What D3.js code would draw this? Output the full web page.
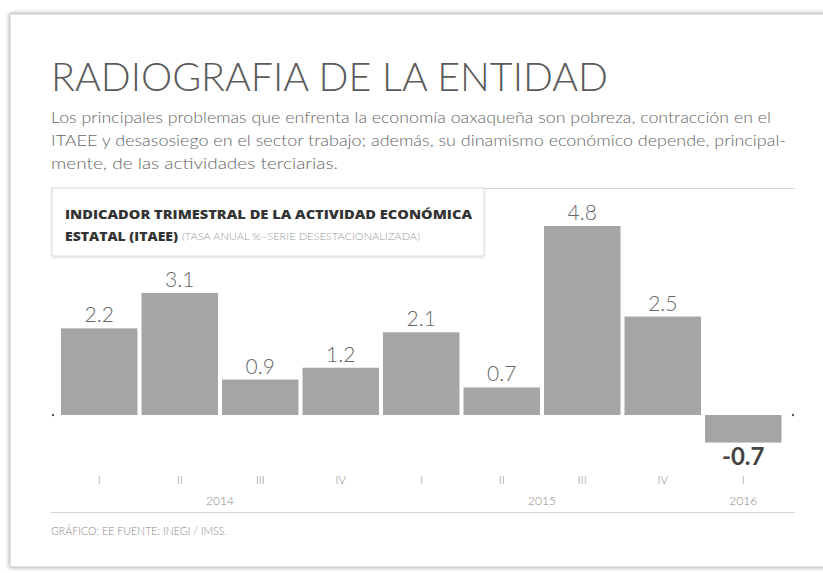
<!DOCTYPE html>
<html>
<head>
<meta charset="utf-8">
<script src="https://cdn.jsdelivr.net/npm/d3@7"></script>
<style>
  html, body { margin: 0; padding: 0; background: #fff; }
  svg { display: block; font-family: Lato, "Open Sans", sans-serif; }
</style>
</head>
<body>
<div id="chart"></div>
<script>
// data
const quarters = ["I", "II", "III", "IV", "I", "II", "III", "IV", "I"];
const years = ["2014", "2014", "2014", "2014", "2015", "2015", "2015", "2015", "2016"];
const values = [2.2, 3.1, 0.9, 1.2, 2.1, 0.7, 4.8, 2.5, -0.7];
const yearLabels = ["2014", "2015", "2016"];

const subtitleLines = [
    "Los principales problemas que enfrenta la economía oaxaqueña son pobreza, contracción en el",
    "ITAEE y desasosiego en el sector trabajo; además, su dinamismo económico depende, principal-",
    "mente, de las actividades terciarias."
];

const svg = d3.select("#chart")
    .append("svg")
    .attr("width", 823)
    .attr("height", 573);

const defs = svg.append("defs");
const shadow = defs.append("filter").attr("id", "shadow")
    .attr("x", "-5%").attr("y", "-5%").attr("width", "110%").attr("height", "110%");
shadow.append("feDropShadow")
    .attr("dx", 0).attr("dy", 0).attr("stdDeviation", 2.2)
    .attr("flood-color", "#000").attr("flood-opacity", 0.4);

const boxShadow = defs.append("filter").attr("id", "boxShadow")
    .attr("x", "-5%").attr("y", "-10%").attr("width", "110%").attr("height", "130%");
boxShadow.append("feDropShadow")
    .attr("dx", 0).attr("dy", 1).attr("stdDeviation", 1.2)
    .attr("flood-color", "#000").attr("flood-opacity", 0.15);

// card
svg.append("rect")
    .attr("x", 10).attr("y", 14)
    .attr("width", 830).attr("height", 553)
    .attr("fill", "#fff")
    .attr("stroke", "#c4c4c4")
    .attr("filter", "url(#shadow)");

// header
svg.append("text")
    .attr("x", 51).attr("y", 91)
    .attr("font-size", 40)
    .attr("font-weight", 300)
    .attr("fill", "#5a5a5a")
    .attr("textLength", 557)
    .attr("lengthAdjust", "spacingAndGlyphs")
    .text("RADIOGRAFIA DE LA ENTIDAD");

const subWidths = [720, 735, 287];
svg.append("g")
    .selectAll("text")
    .data(subtitleLines)
    .join("text")
    .attr("x", 51)
    .attr("y", (d, i) => 123 + i * 23)
    .attr("font-size", 15.5)
    .attr("font-weight", 300)
    .attr("fill", "#666")
    .attr("textLength", (d, i) => subWidths[i])
    .attr("lengthAdjust", "spacingAndGlyphs")
    .text(d => d);

// top rule and chart title box
svg.append("line")
    .attr("x1", 51).attr("x2", 795)
    .attr("y1", 188.5).attr("y2", 188.5)
    .attr("stroke", "#d6d6d6");

svg.append("rect")
    .attr("x", 52).attr("y", 188)
    .attr("width", 432).attr("height", 68)
    .attr("fill", "#fff")
    .attr("stroke", "#dcdcdc")
    .attr("filter", "url(#boxShadow)");

const heavy = "'Open Sans', 'DejaVu Sans', sans-serif";

svg.append("text")
    .attr("x", 65).attr("y", 219)
    .attr("font-family", heavy)
    .attr("font-size", 12.5)
    .attr("font-weight", 800)
    .attr("fill", "#333")
    .attr("textLength", 407)
    .attr("lengthAdjust", "spacingAndGlyphs")
    .text("INDICADOR TRIMESTRAL DE LA ACTIVIDAD ECONÓMICA");

svg.append("text")
    .attr("x", 65).attr("y", 241)
    .attr("font-family", heavy)
    .attr("font-size", 12.5)
    .attr("font-weight", 800)
    .attr("fill", "#333")
    .attr("textLength", 113)
    .attr("lengthAdjust", "spacingAndGlyphs")
    .text("ESTATAL (ITAEE)");

svg.append("text")
    .attr("x", 182).attr("y", 240)
    .attr("font-size", 9.5)
    .attr("font-weight", 300)
    .attr("fill", "#999")
    .attr("textLength", 238)
    .attr("lengthAdjust", "spacingAndGlyphs")
    .text("(TASA ANUAL %–SERIE DESESTACIONALIZADA)");

// scales
const x = d3.scaleBand()
    .domain(d3.range(values.length))
    .range([61, 781.5])
    .paddingInner(0.05);

const y = d3.scaleLinear()
    .domain([0, 4.8])
    .range([415, 226]);

// bars
svg.append("g")
    .selectAll("rect")
    .data(values)
    .join("rect")
    .attr("x", (d, i) => x(i))
    .attr("width", x.bandwidth())
    .attr("y", d => Math.min(y(d), y(0)))
    .attr("height", d => Math.abs(y(d) - y(0)))
    .attr("fill", "#a5a5a5");

// baseline dots
svg.append("g")
    .selectAll("circle")
    .data([53, 793])
    .join("circle")
    .attr("cx", d => d)
    .attr("cy", y(0))
    .attr("r", 1.2)
    .attr("fill", "#555");

// value labels
svg.append("g")
    .selectAll("text")
    .data(values)
    .join("text")
    .attr("x", (d, i) => x(i) + x.bandwidth() / 2)
    .attr("y", d => d >= 0 ? y(d) - 6 : y(d) + 22)
    .attr("text-anchor", "middle")
    .attr("font-size", d => d >= 0 ? 21 : 24)
    .attr("font-weight", d => d >= 0 ? 300 : 700)
    .attr("fill", d => d >= 0 ? "#666" : "#444")
    .text(d => d3.format(".1f")(d).replace("−", "-"));

// quarter axis
const axis = svg.append("g")
    .attr("transform", "translate(0,476)")
    .call(d3.axisBottom(x).tickSize(0).tickPadding(0).tickFormat(i => quarters[i]));
axis.select(".domain").remove();
axis.selectAll("text")
    .attr("font-family", "Lato, sans-serif")
    .attr("font-size", 11.5)
    .attr("font-weight", 300)
    .attr("fill", "#8a8a8a");

// year labels centred under their quarters
svg.append("g")
    .selectAll("text")
    .data(yearLabels)
    .join("text")
    .attr("x", yr => {
        const idx = d3.range(years.length).filter(i => years[i] === yr);
        return d3.mean(idx, i => x(i) + x.bandwidth() / 2);
    })
    .attr("y", 505)
    .attr("text-anchor", "middle")
    .attr("font-size", 12)
    .attr("font-weight", 300)
    .attr("fill", "#888")
    .text(d => d);

// footer
svg.append("line")
    .attr("x1", 51).attr("x2", 795)
    .attr("y1", 512.5).attr("y2", 512.5)
    .attr("stroke", "#d6d6d6");

svg.append("text")
    .attr("x", 51).attr("y", 535)
    .attr("font-size", 12)
    .attr("font-weight", 300)
    .attr("fill", "#888")
    .attr("textLength", 176)
    .attr("lengthAdjust", "spacingAndGlyphs")
    .text("GRÁFICO: EE  FUENTE: INEGI / IMSS.");
</script>
</body>
</html>
